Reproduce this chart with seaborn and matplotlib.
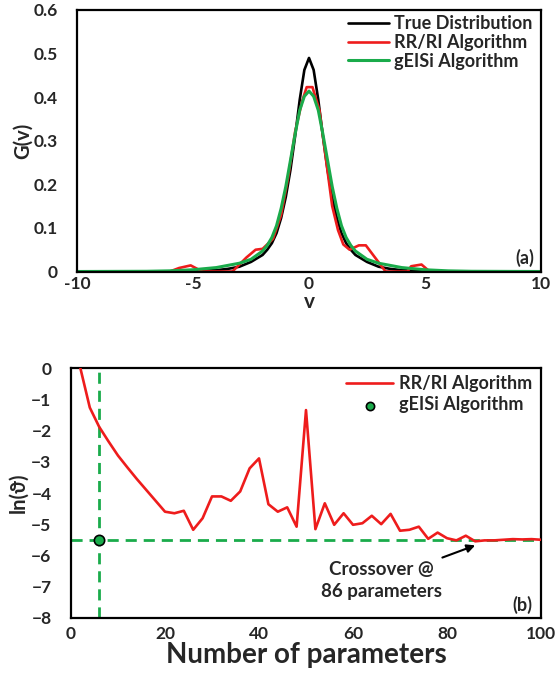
import matplotlib
matplotlib.use("Agg")
import matplotlib.pyplot as plt
import seaborn as sns
import pandas as pd

# ---------------- Panel (a) data ----------------
v_true = [-10, -6, -5, -4, -3.5, -3, -2.5, -2, -1.8, -1.6, -1.4, -1.2, -1.0, -0.8, -0.6, -0.4, -0.2, 0,
          0.2, 0.4, 0.6, 0.8, 1.0, 1.2, 1.4, 1.6, 1.8, 2, 2.5, 3, 3.5, 4, 5, 6, 10]
g_true = [0, 0, 0.001, 0.003, 0.006, 0.011, 0.022, 0.038, 0.050, 0.065, 0.088, 0.123, 0.171, 0.233,
          0.310, 0.394, 0.4625, 0.490,
          0.4625, 0.394, 0.310, 0.233, 0.171, 0.123, 0.088, 0.065, 0.050, 0.038, 0.022, 0.011, 0.006,
          0.003, 0.001, 0, 0]

v_rr = [-10, -6, -5.6, -5.1, -4.6, -3.3, -2.7, -2.3, -2.0, -1.55, -1.2, -0.9, -0.6, -0.3, -0.1,
        0.15, 0.45, 0.75, 1.0, 1.25, 1.48, 1.75, 2.15, 2.45, 3.3, 4.25, 4.4, 4.85, 5.2, 10]
g_rr = [0, 0, 0.008, 0.014, 0.0, 0.0, 0.032, 0.050, 0.052, 0.075, 0.13, 0.215, 0.32, 0.39, 0.423,
        0.423, 0.37, 0.25, 0.15, 0.095, 0.062, 0.050, 0.060, 0.060, 0.0, 0.0, 0.012, 0.016, 0.0, 0]

v_geisi = [-10, -7, -6, -5, -4, -3.5, -3, -2.5, -2, -1.8, -1.6, -1.4, -1.2, -1.0, -0.8, -0.6, -0.4, -0.2, 0,
           0.2, 0.4, 0.6, 0.8, 1.0, 1.2, 1.4, 1.6, 1.8, 2, 2.5, 3, 3.5, 4, 5, 6, 7, 10]
g_geisi = [0, 0.0005, 0.0015, 0.004, 0.009, 0.014, 0.019, 0.028, 0.047, 0.060, 0.078, 0.105, 0.145, 0.195,
           0.255, 0.315, 0.37, 0.402, 0.414,
           0.402, 0.37, 0.315, 0.255, 0.195, 0.145, 0.105, 0.078, 0.060, 0.047, 0.028, 0.019, 0.014, 0.009,
           0.004, 0.0015, 0.0005, 0]

# ---------------- Panel (b) data ----------------
n_params = list(range(2, 101, 2))
ln_rr = [0.0, -1.26, -1.88, -2.35, -2.8, -3.18, -3.55, -3.9, -4.25, -4.6,
         -4.65, -4.57, -5.18, -4.81, -4.11, -4.11, -4.25, -3.95, -3.21, -2.89,
         -4.36, -4.6, -4.46, -5.08, -1.34, -5.16, -4.33, -5.02, -4.65, -5.02,
         -4.97, -4.73, -5.0, -4.67, -5.21, -5.18, -5.08, -5.47, -5.27, -5.45,
         -5.52, -5.37, -5.55, -5.52, -5.52, -5.5, -5.48, -5.49, -5.48, -5.5]
geisi_n = [6]
geisi_ln = [-5.52]
crossover_n = 86

RED = "#ee1c1c"
GREEN = "#1aab4b"

sns.set_style("white")
plt.rcParams["font.family"] = ["Lato", "DejaVu Sans"]
plt.rcParams["font.weight"] = "bold"
plt.rcParams["axes.labelweight"] = "bold"

W, H = 557, 679
fig = plt.figure(figsize=(W / 100, H / 100), dpi=100)

def box(ax):
    for s in ax.spines.values():
        s.set_visible(True)
        s.set_color("black")
        s.set_linewidth(1.6)

# ---------- panel (a) ----------
ax1 = fig.add_axes([77 / W, 1 - 271.5 / H, (541 - 77) / W, (271.5 - 10) / H])
sns.lineplot(x=v_true, y=g_true, ax=ax1, color="black", lw=1.9, sort=False, estimator=None,
             label="True Distribution")
sns.lineplot(x=v_rr, y=g_rr, ax=ax1, color=RED, lw=1.9, sort=False, estimator=None,
             label="RR/RI Algorithm")
sns.lineplot(x=v_geisi, y=g_geisi, ax=ax1, color=GREEN, lw=2.2, sort=False, estimator=None,
             label="gEISi Algorithm")
ax1.set_xlim(-10, 10)
ax1.set_ylim(0, 0.6)
ax1.set_xticks([-10, -5, 0, 5, 10])
ax1.set_xticklabels(["-10", "-5", "0", "5", "10"])
ax1.set_yticks([0, 0.1, 0.2, 0.3, 0.4, 0.5, 0.6])
ax1.set_yticklabels(["0", "0.1", "0.2", "0.3", "0.4", "0.5", "0.6"])
ax1.tick_params(axis="x", length=0, pad=3, labelsize=12.5)
ax1.tick_params(axis="y", direction="in", length=5, width=1.5, pad=14, labelsize=12.5)
ax1.set_xticks([0], minor=True)
ax1.tick_params(axis="x", which="minor", direction="inout", length=7, width=1.5)
ax1.set_xlabel("v", fontsize=15, labelpad=0)
ax1.set_ylabel("G(v)", fontsize=14.5, labelpad=0)
box(ax1)
ax1.legend(loc="upper right", bbox_to_anchor=(1.0, 1.015), frameon=False,
           handlelength=2.3, handletextpad=0.25, labelspacing=0.1, borderaxespad=0.1,
           prop={"weight": "bold", "size": 13})
ax1.text(0.985, 0.05, "(a)", transform=ax1.transAxes, ha="right", va="center", fontsize=13,
         fontweight="bold")

# ---------- panel (b) ----------
ax2 = fig.add_axes([71 / W, 1 - 617.7 / H, (541 - 71) / W, (617.7 - 368.3) / H])
ax2.axhline(geisi_ln[0], color=GREEN, lw=2.0, ls=(0, (4, 2.5)), zorder=1)
ax2.axvline(geisi_n[0], color=GREEN, lw=2.0, ls=(0, (4, 2.5)), zorder=1)
sns.lineplot(x=n_params, y=ln_rr, ax=ax2, color=RED, lw=1.9, sort=False, estimator=None,
             label="RR/RI Algorithm", zorder=3)
sns.scatterplot(x=geisi_n, y=geisi_ln, ax=ax2, color=GREEN, edgecolor="black", linewidth=1.2,
                s=55, label="gEISi Algorithm", zorder=4)
ax2.set_xlim(0, 100)
ax2.set_ylim(-8, 0)
ax2.set_xticks([0, 20, 40, 60, 80, 100])
ax2.set_yticks(list(range(-8, 1)))
ax2.tick_params(axis="both", direction="in", length=5, width=1.5, labelsize=12.5)
ax2.tick_params(axis="x", pad=6)
ax2.tick_params(axis="y", pad=14)
ax2.set_xlabel("Number of parameters", fontsize=20, labelpad=0)
ax2.set_ylabel("ln(\u03d1)", fontsize=14.5, labelpad=2)
box(ax2)
ax2.legend(loc="upper right", bbox_to_anchor=(1.0, 1.01), frameon=False,
           handlelength=2.6, handletextpad=0.3, labelspacing=0.25, borderaxespad=0.1,
           prop={"weight": "bold", "size": 13}, markerscale=0.8)
ax2.annotate("Crossover @\n86 parameters", xy=(crossover_n, -5.68), xytext=(66, -6.8),
             ha="center", va="center", fontsize=13.5, fontweight="bold", linespacing=1.35,
             arrowprops=dict(arrowstyle="-|>", color="black", lw=1.5, mutation_scale=12,
                             shrinkA=66, shrinkB=0))
ax2.text(0.982, 0.05, "(b)", transform=ax2.transAxes, ha="right", va="center", fontsize=13,
         fontweight="bold")

fig.savefig("out.png", dpi=100)
